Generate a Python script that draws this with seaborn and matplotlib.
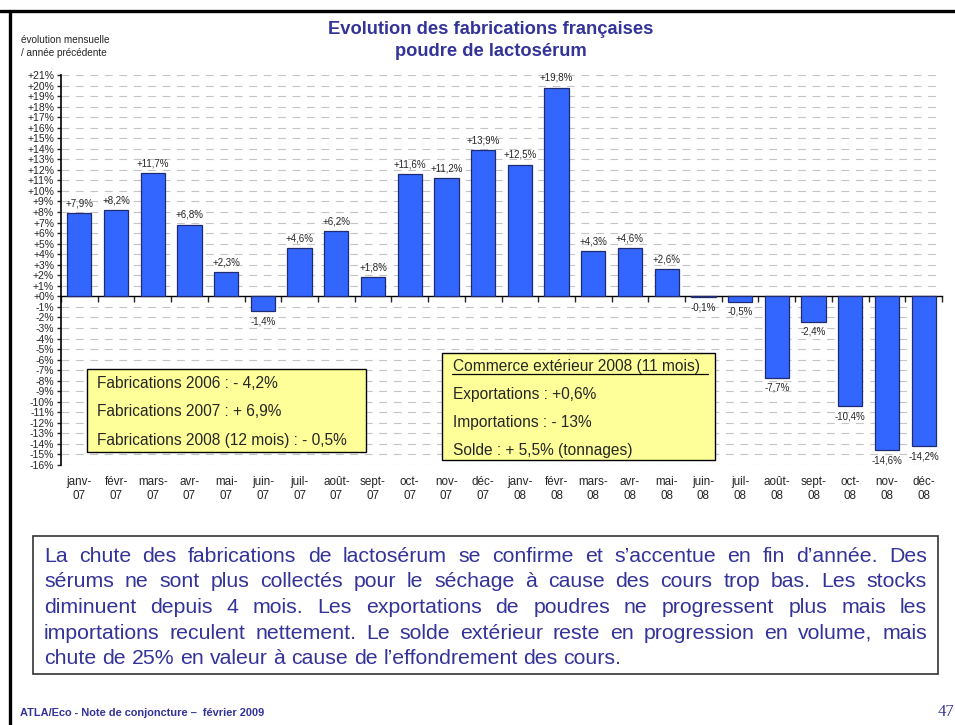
import numpy as np
import pandas as pd
import matplotlib
matplotlib.use("Agg")
import matplotlib.pyplot as plt
import seaborn as sns
from matplotlib.patches import Rectangle
from matplotlib.lines import Line2D
from matplotlib import font_manager

# ---- data -------------------------------------------------------------
months = ["janv-\n07", "févr-\n07", "mars-\n07", "avr-\n07", "mai-\n07", "juin-\n07",
          "juil-\n07", "août-\n07", "sept-\n07", "oct-\n07", "nov-\n07", "déc-\n07",
          "janv-\n08", "févr-\n08", "mars-\n08", "avr-\n08", "mai-\n08", "juin-\n08",
          "juil-\n08", "août-\n08", "sept-\n08", "oct-\n08", "nov-\n08", "déc-\n08"]
evolution = [7.9, 8.2, 11.7, 6.8, 2.3, -1.4, 4.6, 6.2, 1.8, 11.6, 11.2, 13.9,
             12.5, 19.8, 4.3, 4.6, 2.6, -0.1, -0.5, -7.7, -2.4, -10.4, -14.6, -14.2]
y_ticks = list(range(-16, 22))

box_fabrications = ["Fabrications 2006 : - 4,2%",
                    "Fabrications 2007 : + 6,9%",
                    "Fabrications 2008 (12 mois) : - 0,5%"]
box_commerce = ["Commerce extérieur 2008 (11 mois)",
                "Exportations : +0,6%",
                "Importations : - 13%",
                "Solde : + 5,5% (tonnages)"]
comment_lines = [
    "La chute des fabrications de lactosérum se confirme et s’accentue en fin d’année. Des",
    "sérums ne sont plus collectés pour le séchage à cause des cours trop bas. Les stocks",
    "diminuent depuis 4 mois. Les exportations de poudres ne progressent plus mais les",
    "importations reculent nettement. Le solde extérieur reste en progression en volume, mais",
    "chute de 25% en valeur à cause de l’effondrement des cours.",
]

df = pd.DataFrame({"mois": months, "evolution": evolution})

# ---- style ------------------------------------------------------------
sns.set_style("white")
plt.rcParams["font.family"] = ["Liberation Sans", "DejaVu Sans"]
NAVY = "#333399"
BAR = "#3366FF"

W, H = 955, 725
fx = lambda px: px / W
fy = lambda py: 1 - py / H

fig = plt.figure(figsize=(W / 100, H / 100), dpi=100)
fig.patch.set_facecolor("white")

ax_top, ax_bottom, ax_left, ax_right = 75, 465, 61, 942
ax = fig.add_axes([fx(ax_left), fy(ax_bottom), (ax_right - ax_left) / W, (ax_bottom - ax_top) / H])
ax.set_facecolor("none")

sns.barplot(data=df, x="mois", y="evolution", color=BAR, saturation=1, width=0.66,
            edgecolor="#1F2A70", linewidth=0.9, ax=ax, zorder=3)

ymin, ymax = -16, 21
ax.set_ylim(ymin, ymax)
ax.set_xlim(-0.5, len(months) - 0.5)

# dashed horizontal grid
for t in y_ticks:
    if t != 0:
        ax.axhline(t, color="#c4c4c4", lw=0.8, dashes=(7, 6), zorder=1)

ax.set_yticks(y_ticks)
ax.set_yticklabels([f"{t:+d}%" for t in y_ticks])
ax.tick_params(axis="y", which="major", length=3, width=1, pad=2, labelsize=7.5,
               direction="out", left=True)

# category axis runs along the zero line, labels sit under the plot area
for s in ["top", "right"]:
    ax.spines[s].set_visible(False)
ax.spines["left"].set_linewidth(1.2)
ax.spines["bottom"].set_position(("data", 0))
ax.spines["bottom"].set_linewidth(1.0)
ax.spines["left"].set_color("black")
ax.spines["bottom"].set_color("black")

ax.set_xticks(np.arange(len(months)))
ax.set_xticks(np.arange(len(months) + 1) - 0.5, minor=True)
zero_px = (0 - ymin) / (ymax - ymin) * (ax_bottom - ax_top)
pad_pt = (zero_px + 11) * 72 / 100
ax.tick_params(axis="x", which="major", length=0, pad=pad_pt, labelsize=8.4)
ax.tick_params(axis="x", which="minor", length=4, width=1, direction="out", bottom=True)
for lab in ax.get_xticklabels():
    lab.set_linespacing(1.2)
ax.set_xlabel("")
ax.set_ylabel("")

# value labels
for i, v in enumerate(evolution):
    txt = f"{v:+.1f}%".replace(".", ",")
    if v >= 0:
        ax.text(i, v + 0.45, txt, ha="center", va="bottom", fontsize=7, zorder=4)
    else:
        ax.text(i, v - 0.5, txt, ha="center", va="top", fontsize=7, zorder=4)

# ---- titles -----------------------------------------------------------
fig.text(fx(491), fy(30), "Evolution des fabrications françaises", ha="center", va="center",
         fontsize=13.2, fontweight="bold", color=NAVY)
fig.text(fx(491), fy(52), "poudre de lactosérum", ha="center", va="center",
         fontsize=13.2, fontweight="bold", color=NAVY)
fig.text(fx(21), fy(40), "évolution mensuelle", ha="left", va="center", fontsize=7.2)
fig.text(fx(21), fy(53), "/ année précédente", ha="left", va="center", fontsize=7.2)

# ---- info boxes -------------------------------------------------------
def px_rect(x0, y0, x1, y1, face, edge, lw):
    r = Rectangle((fx(x0), fy(y1)), (x1 - x0) / W, (y1 - y0) / H, transform=fig.transFigure,
                  facecolor=face, edgecolor=edge, lw=lw, zorder=5)
    fig.add_artist(r)

px_rect(87, 369, 366, 452, "#FFFF99", "black", 1.0)
for k, line in enumerate(box_fabrications):
    fig.text(fx(97), fy(383 + k * 28.5), line, ha="left", va="center", fontsize=11.2, zorder=6)

px_rect(442, 353, 715, 460, "#FFFF99", "black", 1.0)
for k, line in enumerate(box_commerce):
    fig.text(fx(453), fy(366 + k * 28), line, ha="left", va="center", fontsize=11.2, zorder=6)
fig.add_artist(Line2D([fx(452), fx(708)], [fy(374), fy(374)], transform=fig.transFigure,
                      color="black", lw=0.9, zorder=6))

# ---- comment paragraph (justified) -----------------------------------
px_rect(33, 536, 938, 674, "white", "#333333", 1.2)
fig.canvas.draw()
renderer = fig.canvas.get_renderer()
text_left, text_right = 44, 927
para_size = 15.3
for k, line in enumerate(comment_lines):
    base = 561.5 + k * 25.75
    words = line.split(" ")
    objs = [fig.text(0, fy(base), w, ha="left", va="baseline", fontsize=para_size, color=NAVY, zorder=6)
            for w in words]
    widths = [o.get_window_extent(renderer).width for o in objs]
    if k < len(comment_lines) - 1:
        gap = (text_right - text_left - sum(widths)) / (len(words) - 1)
    else:
        sp = fig.text(0, 0, "a a", fontsize=para_size)
        sp2 = fig.text(0, 0, "aa", fontsize=para_size)
        gap = sp.get_window_extent(renderer).width - sp2.get_window_extent(renderer).width
        sp.remove(); sp2.remove()
    x = text_left
    for o, w in zip(objs, widths):
        o.set_x(fx(x))
        x += w + gap

# ---- page frame and footer -------------------------------------------
fig.add_artist(Line2D([0, 1], [fy(10.5), fy(10.5)], transform=fig.transFigure, color="black", lw=2.4))
fig.add_artist(Line2D([fx(9.5), fx(9.5)], [fy(10.5), 0], transform=fig.transFigure, color="black", lw=2.4))

narrow = [f.name for f in font_manager.fontManager.ttflist if f.name == "Liberation Sans Narrow"]
foot_family = ["Liberation Sans Narrow"] if narrow else ["Liberation Sans"]
fig.text(fx(20), fy(713), "ATLA/Eco - Note de conjoncture –  février 2009", ha="left", va="center",
         fontsize=8.8 if narrow else 7.9, fontweight="bold", color=NAVY, family=foot_family)
fig.text(fx(938), fy(716), "47", ha="left", va="baseline", fontsize=12, color=NAVY,
         family=["Liberation Serif"])

fig.savefig("out.png", dpi=100)
